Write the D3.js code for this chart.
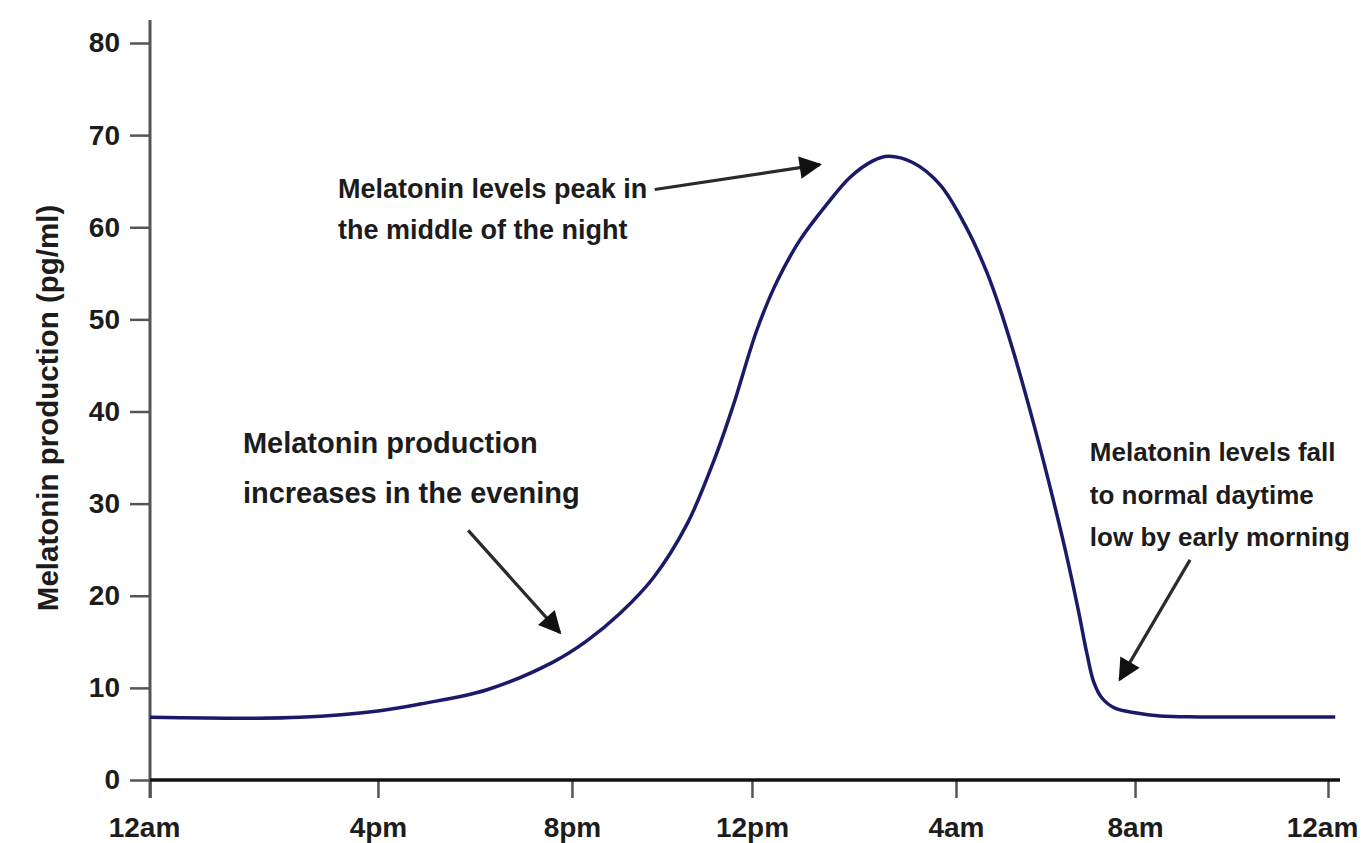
<!DOCTYPE html>
<html>
<head>
<meta charset="utf-8">
<script src="https://cdn.jsdelivr.net/npm/d3@7"></script>
<style>
  body { margin: 0; background: #fff; }
  svg text { font-family: "Liberation Sans", Arial, sans-serif; font-weight: bold; fill: #1c1c1c; }
</style>
</head>
<body>
<div id="chart"></div>
<script>
// hours since the first 12am tick, melatonin level (pg/ml)
var hours  = [0, 1.75, 2.63, 4, 4.87, 6.25, 7.61, 8.33, 9.07, 9.8, 10.56, 11.18, 11.58, 12.1, 12.49,
              12.94, 13.47, 13.92, 14.37, 14.67, 15.16, 15.69, 16.25, 16.69, 16.98, 17.27, 17.65,
              18.06, 18.44, 18.73, 18.93, 19.08, 19.26, 19.55, 20, 20.52, 21.35, 24.15];
var levels = [6.8, 6.7, 6.8, 7.5, 8.25, 9.8, 12.8, 15.1, 18.1, 21.9, 27.8, 35.0, 40.6, 48.9, 54.1,
              58.6, 62.5, 65.4, 67.2, 67.7, 67.0, 64.6, 59.8, 55.1, 51.2, 46.7, 40.2,
              32.6, 25.0, 18.5, 13.6, 10.6, 8.9, 7.8, 7.3, 6.95, 6.85, 6.85];

var tickHours  = [0, 4, 8, 12, 16, 20, 24];
var tickLabels = ["12am", "4pm", "8pm", "12pm", "4am", "8am", "12am"];
var yTicks     = [0, 10, 20, 30, 40, 50, 60, 70, 80];

var notes = [
  { lines: ["Melatonin levels peak in", "the middle of the night"], at: [3.3, 63.2],
    from: [9.84, 64.1], to: [13.33, 66.8] },
  { lines: ["Melatonin production", "increases in the evening"], at: [1.63, 35.5],
    from: [5.86, 27.1], to: [7.75, 16.0] },
  { lines: ["Melatonin levels fall", "to normal daytime", "low by early morning"], at: [18.99, 34.6],
    from: [21.14, 23.9], to: [19.66, 10.9] }
];
var noteStyle = [{size: 27, gap: 41}, {size: 29, gap: 50}, {size: 26, gap: 42.5}];

var W = 1361, H = 843;
var margin = {top: 43, left: 150, bottom: 63, right: 33};

var svg = d3.select("#chart").append("svg")
    .attr("width", W).attr("height", H);

// the reference spaces its hour ticks unevenly, so a piecewise scale
var plotW = W - margin.left - margin.right;
var x = d3.scaleLinear()
    .domain(tickHours)
    .range([0, 0.1935, 0.3582, 0.511, 0.6842, 0.8362, 1].map(function(f) { return margin.left + f * plotW; }));

var y = d3.scaleLinear()
    .domain([0, 80])
    .range([H - margin.bottom, margin.top]);

svg.append("defs").append("marker")
    .attr("id", "head")
    .attr("viewBox", "0 0 10 10")
    .attr("refX", 9).attr("refY", 5)
    .attr("markerWidth", 8.5).attr("markerHeight", 7)
    .attr("markerUnits", "strokeWidth")
    .attr("orient", "auto")
  .append("path")
    .attr("d", "M0,0L10,5L0,10Z")
    .attr("fill", "#111");

// y axis
var gy = svg.append("g")
    .attr("transform", "translate(" + margin.left + ",0)")
    .call(d3.axisLeft(y).tickValues(yTicks).tickSize(20).tickPadding(10).tickSizeOuter(0));
gy.select(".domain").remove();
gy.selectAll(".tick line").attr("stroke", "#555").attr("stroke-width", 2.5);
gy.selectAll(".tick text").style("font-size", "28px");
gy.append("line")
    .attr("y1", y(80) - 23).attr("y2", y(0) + 18)
    .attr("stroke", "#555").attr("stroke-width", 3);

// x axis
var gx = svg.append("g")
    .attr("transform", "translate(0," + y(0) + ")")
    .call(d3.axisBottom(x).tickValues(tickHours).tickSize(18).tickPadding(19)
      .tickFormat(function(d, i) { return tickLabels[i]; }));
gx.select(".domain").remove();
gx.selectAll(".tick line").attr("stroke", "#555").attr("stroke-width", 2.5);
gx.selectAll(".tick text")
    .style("font-size", "28px")
    .attr("dx", function(d, i) { return (i === 0 || i === tickHours.length - 1) ? -6 : 0; });
gx.append("line")
    .attr("x1", margin.left).attr("x2", W - 21)
    .attr("stroke", "#111").attr("stroke-width", 3.5);

svg.append("text")
    .attr("transform", "translate(58,408) rotate(-90)")
    .attr("text-anchor", "middle")
    .style("font-size", "29.5px")
    .text("Melatonin production (pg/ml)");

// the curve
var pts = hours.map(function(h, i) { return [h, levels[i]]; });
svg.append("path")
    .datum(pts)
    .attr("fill", "none")
    .attr("stroke", "#1b1a6a")
    .attr("stroke-width", 3.5)
    .attr("d", d3.line()
      .curve(d3.curveCatmullRom.alpha(0.5))
      .x(function(d) { return x(d[0]); })
      .y(function(d) { return y(d[1]); }));

// annotations
notes.forEach(function(n, k) {
  var st = noteStyle[k];
  var t = svg.append("text")
      .attr("x", x(n.at[0])).attr("y", y(n.at[1]))
      .style("font-size", st.size + "px");
  n.lines.forEach(function(s, i) {
    t.append("tspan").attr("x", x(n.at[0])).attr("dy", i ? st.gap : 0).text(s);
  });
  svg.append("line")
      .attr("x1", x(n.from[0])).attr("y1", y(n.from[1]))
      .attr("x2", x(n.to[0])).attr("y2", y(n.to[1]))
      .attr("stroke", "#2a2a2a").attr("stroke-width", 3.2)
      .attr("marker-end", "url(#head)");
});
</script>
</body>
</html>
